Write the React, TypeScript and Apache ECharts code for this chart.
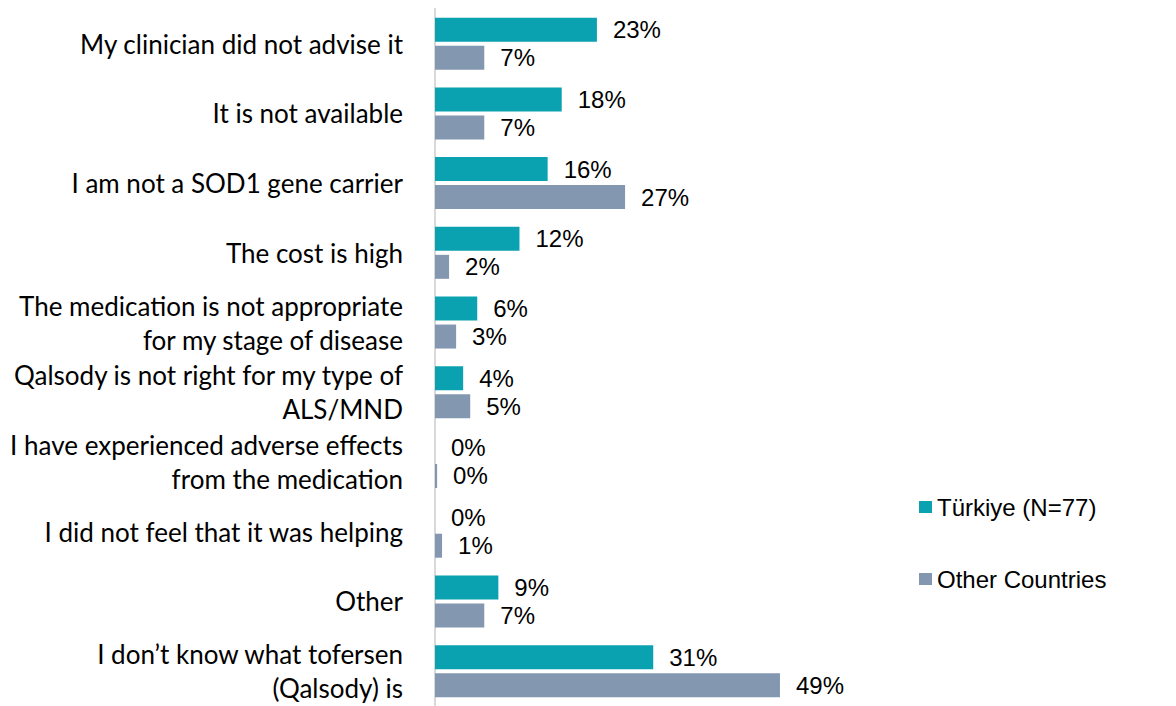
import React, { useEffect, useRef } from "react";
import * as echarts from "echarts";

const categories = [
  "My clinician did not advise it",
  "It is not available",
  "I am not a SOD1 gene carrier",
  "The cost is high",
  "The medication is not appropriate\nfor my stage of disease",
  "Qalsody is not right for my type of\nALS/MND",
  "I have experienced adverse effects\nfrom the medication",
  "I did not feel that it was helping",
  "Other",
  "I don\u2019t know what tofersen\n(Qalsody) is",
];
const seriesNames = ["T\u00fcrkiye (N=77)", "Other Countries"];
const turkiye = [23, 18, 16, 12, 6, 4, 0, 0, 9, 31];
const otherCountries = [7, 7, 27, 2, 3, 5, 0.3, 1, 7, 49];

const TEAL = "#0AA1B0";
const GRAY = "#8497B0";

export default function App() {
  const ref = useRef<HTMLDivElement>(null);
  useEffect(() => {
    document.body.style.margin = "0";
    const chart = echarts.init(ref.current!, null, { renderer: "svg" });
    const labelStyle = {
      show: true,
      position: "right",
      distance: 16,
      fontSize: 24,
      fontFamily: "Liberation Sans, Arial, sans-serif",
      color: "#000",
      formatter: (p: any) => `${Math.round(p.value)}%`,
    };
    chart.setOption({
      animation: false,
      backgroundColor: "#fff",
      grid: { left: 435, top: 8.8, width: 422.4, height: 704, containLabel: false },
      legend: {
        orient: "vertical",
        left: 919,
        top: 495,
        padding: 0,
        icon: "rect",
        itemWidth: 13,
        itemHeight: 12,
        itemGap: 48,
        textStyle: {
          fontSize: 24,
          fontFamily: "Liberation Sans, Arial, sans-serif",
          color: "#000",
        },
        data: seriesNames,
      },
      xAxis: {
        type: "value",
        min: 0,
        max: 60,
        show: false,
      },
      yAxis: {
        type: "category",
        inverse: true,
        data: categories,
        axisLine: { show: true, lineStyle: { color: "#D9D9D9", width: 2 } },
        axisTick: { show: false },
        axisLabel: {
          margin: 32,
          fontSize: 26,
          lineHeight: 34,
          fontFamily: "Lato, sans-serif",
          color: "#000",
          align: "right",
        },
      },
      series: [
        {
          name: seriesNames[0],
          type: "bar",
          data: turkiye,
          barWidth: 24,
          barGap: "16.7%",
          itemStyle: { color: TEAL },
          label: labelStyle,
        },
        {
          name: seriesNames[1],
          type: "bar",
          data: otherCountries,
          barWidth: 24,
          barGap: "16.7%",
          itemStyle: { color: GRAY },
          label: labelStyle,
        },
      ],
    });
    return () => chart.dispose();
  }, []);
  return <div ref={ref} style={{ width: 1176, height: 706 }} />;
}
